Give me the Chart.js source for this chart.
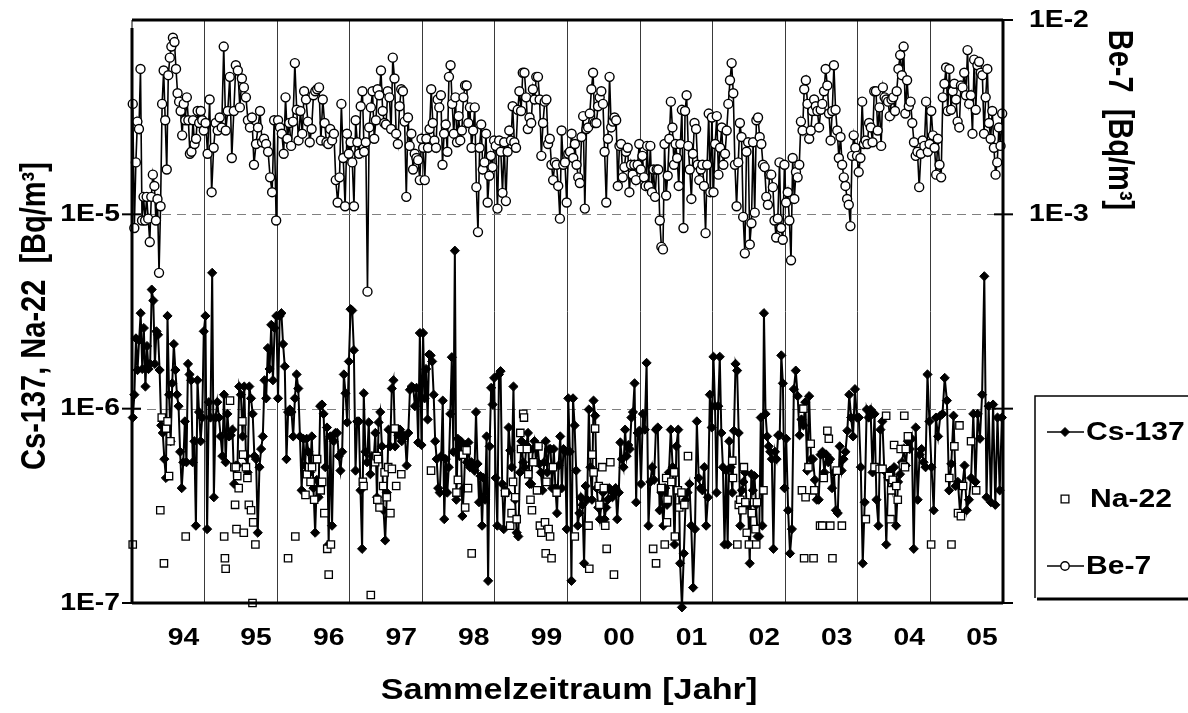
<!DOCTYPE html>
<html><head><meta charset="utf-8">
<script src="https://cdn.jsdelivr.net/npm/chart.js@4"></script>
<style>html,body{margin:0;padding:0;background:#fff;}canvas{display:block;}</style>
</head><body>
<canvas id="c" width="1188" height="713"></canvas>
<script>
// ---- categories / tick labels ----
const years = [1994,1995,1996,1997,1998,1999,2000,2001,2002,2003,2004,2005];
const yearLabels = ['94','95','96','97','98','99','00','01','02','03','04','05'];
const leftTickValues = [1e-7,1e-6,1e-5];
const leftTickLabels = ['1E-7','1E-6','1E-5'];
const rightTickValues = [1e-3,1e-2];
const rightTickLabels = ['1E-3','1E-2'];

// ---- Be-7 [Bq/m3], roughly weekly samples per year ----
const be1994 = [3.7e-3,0.85e-3,1.85e-3,3.0e-3,2.75e-3,5.6e-3,0.93e-3,1.23e-3,0.93e-3,1.23e-3,0.95e-3,0.72e-3,1.23e-3,1.6e-3,1.4e-3,0.93e-3,1.2e-3,0.5e-3,1.1e-3,3.7e-3,5.5e-3,3.05e-3,1.7e-3,5.2e-3,6.4e-3,7.3e-3,8.1e-3,7.7e-3,5.6e-3,4.2e-3,3.8e-3,3.4e-3,2.55e-3,3.7e-3,3.05e-3,4.0e-3,3.05e-3,2.05e-3,2.1e-3,3.05e-3,2.3e-3,2.45e-3,3.4e-3,2.95e-3,3.4e-3,3.05e-3,2.7e-3];
const be1995 = [2.95e-3,2.05e-3,3.9e-3,1.3e-3,2.2e-3,2.95e-3,2.7e-3,3.15e-3,2.8e-3,7.3e-3,2.7e-3,3.4e-3,5.1e-3,1.95e-3,3.4e-3,5.85e-3,5.5e-3,3.55e-3,5.0e-3,4.5e-3,4.0e-3,3.05e-3,2.8e-3,3.15e-3,1.8e-3,2.3e-3,2.8e-3,3.4e-3,2.35e-3,2.45e-3,2.3e-3,2.1e-3,1.55e-3,1.3e-3,3.05e-3,0.93e-3];
const be1996 = [3.05e-3,2.8e-3,2.6e-3,2.05e-3,4.0e-3,2.45e-3,2.95e-3,2.25e-3,3.0e-3,6.0e-3,3.45e-3,2.4e-3,3.4e-3,2.6e-3,4.3e-3,3.9e-3,3.0e-3,2.35e-3,2.75e-3,4.1e-3,4.3e-3,4.4e-3,4.5e-3,2.4e-3,3.9e-3,2.95e-3,2.35e-3,2.3e-3,2.75e-3,2.4e-3,2.6e-3,1.5e-3,1.15e-3,1.55e-3,3.7e-3,1.95e-3,1.1e-3,2.6e-3,2.05e-3];
const be1997 = [2.35e-3,1.85e-3,1.1e-3,3.05e-3,2.35e-3,2.05e-3,3.6e-3,4.3e-3,2.1e-3,2.35e-3,0.4e-3,2.8e-3,3.55e-3,4.3e-3,2.45e-3,3.05e-3,4.4e-3,4.1e-3,5.5e-3,3.4e-3,2.95e-3,2.9e-3,4.3e-3,4.0e-3,2.75e-3,6.4e-3,5.0e-3,2.6e-3,2.3e-3,3.6e-3,4.4e-3,4.3e-3,3.0e-3,1.23e-3,3.15e-3,2.25e-3,2.6e-3,1.7e-3,2.05e-3,1.95e-3,1.9e-3,1.5e-3,2.45e-3];
const be1998 = [2.2e-3,1.5e-3,2.45e-3,2.2e-3,2.75e-3,4.4e-3,2.95e-3,2.4e-3,2.2e-3,3.9e-3,3.55e-3,4.1e-3,1.8e-3,2.6e-3,2.9e-3,2.1e-3,5.1e-3,5.85e-3,3.7e-3,2.6e-3,4.0e-3,2.35e-3,3.2e-3,2.4e-3,2.7e-3,4.0e-3,4.6e-3,4.6e-3,2.95e-3,3.55e-3,2.2e-3,2.7e-3,3.55e-3,1.38e-3,0.81e-3,2.2e-3,2.9e-3,1.7e-3,1.85e-3,2.6e-3,1.15e-3,1.58e-3,2.0e-3,1.75e-3,2.4e-3];
const be1999 = [2.25e-3,1.07e-3,2.4e-3,2.1e-3,1.29e-3,2.35e-3,1.17e-3,2.1e-3,2.7e-3,2.4e-3,3.6e-3,2.35e-3,2.2e-3,3.45e-3,4.3e-3,3.4e-3,5.35e-3,5.35e-3,4.0e-3,2.75e-3,3.15e-3,2.95e-3,4.4e-3,3.9e-3,5.1e-3,5.1e-3,3.9e-3,2.0e-3,2.95e-3,3.8e-3,3.9e-3,2.3e-3,2.45e-3,1.8e-3,1.5e-3,1.85e-3,1.8e-3,1.4e-3,0.95e-3,2.7e-3,1.8e-3,1.85e-3,1.15e-3];
const be2000 = [2.05e-3,2.1e-3,2.6e-3,1.95e-3,2.3e-3,1.8e-3,1.55e-3,1.45e-3,2.5e-3,3.2e-3,1.07e-3,2.75e-3,2.8e-3,3.3e-3,4.4e-3,5.35e-3,2.95e-3,2.95e-3,3.6e-3,4.0e-3,4.3e-3,3.7e-3,2.1e-3,1.15e-3,2.45e-3,5.1e-3,2.8e-3,3.0e-3,3.15e-3,3.05e-3,1.4e-3,2.25e-3,2.3e-3,1.55e-3,1.75e-3,2.1e-3,2.2e-3,1.3e-3,1.8e-3,1.6e-3,1.8e-3,1.5e-3,1.8e-3,2.3e-3];
const be2001 = [1.7e-3,2.0e-3,1.55e-3,1.4e-3,2.25e-3,1.4e-3,2.25e-3,1.3e-3,1.7e-3,1.23e-3,1.7e-3,1.7e-3,0.93e-3,0.68e-3,0.66e-3,2.3e-3,1.25e-3,1.58e-3,2.45e-3,3.8e-3,2.8e-3,1.8e-3,2.3e-3,1.95e-3,1.4e-3,2.3e-3,3.45e-3,0.85e-3,3.4e-3,4.1e-3,2.25e-3,1.7e-3,1.2e-3,2.05e-3,2.95e-3,2.75e-3,1.8e-3,1.5e-3,1.7e-3,1.8e-3,1.4e-3,0.8e-3,1.8e-3,3.3e-3,1.3e-3,3.15e-3];
const be2002 = [1.3e-3,2.3e-3,3.2e-3,1.6e-3,2.2e-3,2.8e-3,1.8e-3,2.05e-3,2.7e-3,3.7e-3,4.9e-3,6.0e-3,4.2e-3,1.8e-3,1.1e-3,1.85e-3,2.95e-3,2.5e-3,0.97e-3,0.63e-3,2.1e-3,2.35e-3,0.7e-3,0.9e-3,2.35e-3,1.02e-3,3.05e-3,3.15e-3,2.5e-3,2.3e-3,1.8e-3,1.75e-3,1.23e-3,1.12e-3,1.6e-3,1.6e-3,1.38e-3,0.93e-3,0.76e-3,0.95e-3,1.85e-3,0.85e-3,0.74e-3,1.8e-3];
const be2003 = [1.15e-3,1.3e-3,0.93e-3,0.58e-3,1.95e-3,1.2e-3,1.65e-3,1.55e-3,1.8e-3,3.0e-3,2.7e-3,4.4e-3,4.9e-3,3.7e-3,2.45e-3,2.7e-3,3.4e-3,3.9e-3,3.6e-3,3.4e-3,2.8e-3,3.45e-3,3.7e-3,4.3e-3,5.6e-3,4.6e-3,3.3e-3,2.4e-3,3.4e-3,5.85e-3,3.45e-3,2.7e-3,1.95e-3,2.5e-3,1.8e-3,1.55e-3,1.4e-3,1.2e-3,1.12e-3,0.87e-3,2.0e-3,2.55e-3,2.2e-3,2.0e-3];
const be2004 = [1.65e-3,1.95e-3,3.8e-3,2.3e-3,2.4e-3,2.3e-3,2.95e-3,2.8e-3,2.35e-3,4.3e-3,4.3e-3,2.7e-3,3.55e-3,2.25e-3,4.5e-3,4.0e-3,3.9e-3,3.8e-3,3.2e-3,3.9e-3,4.0e-3,3.4e-3,4.3e-3,5.6e-3,6.6e-3,5.2e-3,7.3e-3,3.3e-3,4.9e-3,3.6e-3,3.8e-3,2.95e-3,2.35e-3,2.0e-3,2.1e-3,1.38e-3,2.05e-3,2.4e-3,2.25e-3,3.8e-3,2.1e-3,2.3e-3];
const be2005 = [3.4e-3,2.55e-3,2.2e-3,1.6e-3,2.45e-3,1.8e-3,1.55e-3,4.0e-3,4.7e-3,5.7e-3,3.4e-3,5.6e-3,3.45e-3,4.3e-3,4.7e-3,3.9e-3,3.0e-3,2.8e-3,4.6e-3,4.5e-3,5.35e-3,4.1e-3,7.0e-3,3.7e-3,4.1e-3,2.6e-3,6.25e-3,3.45e-3,5.85e-3,6.1e-3,5.35e-3,5.2e-3,2.6e-3,4.0e-3,5.6e-3,2.95e-3,2.45e-3,3.4e-3,2.2e-3,1.6e-3,1.85e-3,2.8e-3,2.25e-3,3.3e-3];

// ---- Cs-137 [Bq/m3] ----
const cs1994 = [0.9e-6,1.18e-6,2.3e-6,1.58e-6,2.25e-6,3.1e-6,1.6e-6,2.6e-6,1.3e-6,2.1e-6,1.6e-6,1.7e-6,4.1e-6,3.6e-6,1.7e-6,2.5e-6,2.4e-6,1.58e-6,0.82e-6,0.75e-6,0.55e-6,0.44e-6,3.0e-6,1.18e-6,0.68e-6,1.35e-6,2.15e-6,1.58e-6,1.18e-6,1.03e-6,0.6e-6,0.39e-6,0.53e-6,0.86e-6,0.53e-6,1.7e-6,1.5e-6,1.4e-6,0.53e-6,0.68e-6,0.25e-6,1.4e-6,0.96e-6,0.68e-6,0.9e-6,2.5e-6];
const cs1995 = [3.0e-6,0.24e-6,1.08e-6,0.9e-6,5.0e-6,0.35e-6,0.9e-6,1.08e-6,0.9e-6,0.72e-6,0.57e-6,1.18e-6,0.53e-6,0.94e-6,0.72e-6,0.73e-6,0.78e-6,0.41e-6,0.51e-6,0.51e-6,1.3e-6,1.18e-6,0.72e-6,1.3e-6,0.57e-6,0.47e-6,1.3e-6,1.13e-6,0.94e-6,0.57e-6,0.55e-6,0.23e-6,0.5e-6,0.62e-6,0.72e-6,1.4e-6,1.13e-6,2.05e-6,1.6e-6,2.7e-6,1.4e-6,2.6e-6,3.0e-6];
const cs1996 = [1.13e-6,3.0e-6,3.1e-6,2.15e-6,1.65e-6,0.55e-6,0.96e-6,0.99e-6,0.96e-6,0.72e-6,1.13e-6,1.5e-6,1.27e-6,0.72e-6,0.38e-6,0.7e-6,0.51e-6,0.7e-6,0.6e-6,0.47e-6,0.72e-6,0.39e-6,0.23e-6,0.43e-6,0.35e-6,1.03e-6,1.05e-6,0.94e-6,0.5e-6,0.8e-6,0.2e-6,0.72e-6,0.25e-6,0.68e-6,0.75e-6,0.75e-6,0.57e-6,0.48e-6,0.6e-6,1.5e-6,1.2e-6,0.85e-6,1.75e-6];
const cs1997 = [3.25e-6,3.2e-6,2.0e-6,0.48e-6,0.86e-6,0.86e-6,0.38e-6,0.19e-6,1.2e-6,0.6e-6,0.53e-6,0.85e-6,0.46e-6,0.57e-6,0.55e-6,0.75e-6,0.35e-6,0.85e-6,0.96e-6,0.64e-6,0.3e-6,0.21e-6,0.37e-6,0.78e-6,0.64e-6,1.27e-6,1.4e-6,0.64e-6,0.77e-6,0.73e-6,0.78e-6,0.68e-6,0.73e-6,0.72e-6,0.51e-6,0.75e-6,1.25e-6,1.3e-6,1.28e-6,1.03e-6,1.28e-6,0.67e-6,2.45e-6,0.65e-6];
const cs1998 = [2.45e-6,1.13e-6,1.6e-6,0.88e-6,1.9e-6,1.88e-6,1.75e-6,1.18e-6,0.68e-6,0.55e-6,0.39e-6,0.37e-6,0.57e-6,1.1e-6,0.27e-6,0.55e-6,0.37e-6,0.5e-6,0.94e-6,1.84e-6,0.6e-6,6.5e-6,0.34e-6,0.7e-6,0.57e-6,0.68e-6,0.28e-6,0.39e-6,0.65e-6,0.53e-6,0.67e-6,0.5e-6,0.53e-6,0.51e-6,0.48e-6,0.96e-6,0.52e-6,0.33e-6,0.45e-6,0.25e-6,0.44e-6,0.34e-6,0.72e-6,0.13e-6,0.64e-6,1.28e-6,1.05e-6,1.44e-6];
const cs1999 = [0.44e-6,0.25e-6,1.5e-6,1.56e-6,0.41e-6,0.24e-6,0.38e-6,0.37e-6,0.8e-6,0.61e-6,0.5e-6,1.3e-6,0.34e-6,0.23e-6,0.22e-6,0.47e-6,0.68e-6,0.53e-6,0.5e-6,0.65e-6,0.75e-6,0.41e-6,0.41e-6,0.62e-6,0.68e-6,0.53e-6,0.64e-6,0.52e-6,0.47e-6,0.38e-6,0.53e-6,0.68e-6,0.47e-6,0.62e-6,0.62e-6,0.39e-6,0.62e-6,0.39e-6,0.29e-6,0.51e-6,0.72e-6,0.39e-6,0.62e-6,0.6e-6,0.24e-6];
const cs2000 = [1.13e-6,0.6e-6,0.13e-6,1.13e-6,0.82e-6,0.48e-6,0.25e-6,0.29e-6,0.35e-6,0.32e-6,0.16e-6,0.4e-6,0.34e-6,0.99e-6,0.5e-6,0.34e-6,1.1e-6,0.92e-6,0.39e-6,0.31e-6,0.27e-6,0.32e-6,0.37e-6,0.27e-6,0.31e-6,0.34e-6,0.39e-6,0.38e-6,0.35e-6,0.37e-6,0.39e-6,0.27e-6,0.37e-6,0.67e-6,0.55e-6,0.5e-6,0.78e-6,0.57e-6,0.65e-6,0.62e-6,0.9e-6,0.96e-6,1.35e-6,0.33e-6,0.75e-6,0.77e-6];
const cs2001 = [0.41e-6,0.94e-6,0.78e-6,1.72e-6,0.25e-6,0.42e-6,0.5e-6,0.43e-6,0.78e-6,0.8e-6,0.3e-6,0.37e-6,0.25e-6,0.39e-6,0.32e-6,0.47e-6,0.78e-6,0.5e-6,0.2e-6,0.64e-6,0.78e-6,0.16e-6,0.095e-6,0.18e-6,0.34e-6,0.37e-6,0.41e-6,0.25e-6,0.12e-6,0.24e-6,0.86e-6,0.44e-6,0.39e-6,0.38e-6,0.5e-6,0.25e-6,0.35e-6,1.18e-6,0.8e-6];
const cs2002 = [1.85e-6,1.03e-6,0.37e-6,1.03e-6,1.85e-6,0.75e-6,0.5e-6,0.2e-6,0.48e-6,0.2e-6,0.68e-6,0.5e-6,0.37e-6,0.77e-6,1.7e-6,1.57e-6,0.75e-6,0.25e-6,0.38e-6,0.42e-6,0.47e-6,0.32e-6,0.32e-6,0.16e-6,0.46e-6,0.38e-6,0.45e-6,0.32e-6,0.22e-6,0.22e-6,0.9e-6,0.25e-6,3.1e-6,0.94e-6,0.72e-6,0.64e-6,0.6e-6,0.55e-6,0.19e-6,0.6e-6,0.55e-6,0.73e-6,0.73e-6,1.88e-6,1.35e-6,0.39e-6];
const cs2003 = [0.7e-6,0.3e-6,0.18e-6,0.24e-6,1.26e-6,1.57e-6,1.16e-6,0.73e-6,0.88e-6,0.82e-6,1.08e-6,0.48e-6,1.16e-6,0.55e-6,0.55e-6,0.43e-6,0.34e-6,0.34e-6,0.58e-6,0.6e-6,0.47e-6,0.58e-6,0.53e-6,0.55e-6,0.39e-6,0.47e-6,0.3e-6,0.29e-6,0.64e-6,0.48e-6,0.55e-6,0.6e-6,0.77e-6,1.18e-6,0.9e-6,0.72e-6,1.26e-6,0.9e-6];
const cs2004 = [0.9e-6,0.5e-6,0.16e-6,0.33e-6,0.99e-6,0.9e-6,0.99e-6,0.47e-6,0.94e-6,0.34e-6,0.25e-6,0.78e-6,0.86e-6,0.48e-6,0.2e-6,0.44e-6,0.48e-6,0.39e-6,0.5e-6,0.25e-6,0.42e-6,0.46e-6,0.53e-6,0.62e-6,0.51e-6,0.68e-6,0.62e-6,0.7e-6,0.19e-6,0.8e-6,0.34e-6,0.58e-6,0.62e-6,0.53e-6,0.5e-6,1.5e-6,0.86e-6];
const cs2005 = [0.5e-6,0.3e-6,0.9e-6,0.72e-6,0.92e-6,0.94e-6,1.44e-6,1.1e-6,0.38e-6,0.52e-6,0.92e-6,0.4e-6,0.42e-6,0.29e-6,0.4e-6,0.51e-6,0.3e-6,0.34e-6,0.44e-6,0.94e-6,0.42e-6,0.94e-6,0.7e-6,1.18e-6,4.8e-6,0.35e-6,1.03e-6,0.33e-6,1.05e-6,0.32e-6,0.9e-6,0.38e-6,0.9e-6];

// ---- Na-22 [Bq/m3], individual sampling dates (decimal year) ----
const naDates = [1994.01,1994.39,1994.41,1994.44,1994.47,1994.49,1994.51,1994.53,1994.74,
 1995.27,1995.28,1995.29,1995.35,1995.41,1995.42,1995.43,1995.44,1995.45,1995.47,1995.52,1995.53,1995.54,1995.57,1995.59,1995.61,1995.64,1995.66,1995.67,1995.7,
 1996.15,1996.25,1996.39,1996.41,1996.44,1996.46,1996.48,1996.51,1996.53,1996.55,1996.6,1996.62,1996.65,1996.69,1996.71,1996.74,
 1997.18,1997.19,1997.29,1997.35,1997.37,1997.38,1997.39,1997.41,1997.46,1997.48,1997.51,1997.53,1997.56,1997.58,1997.62,1997.64,1997.71,
 1998.12,1998.47,1998.49,1998.56,1998.59,1998.61,1998.63,1998.68,
 1999.14,1999.21,1999.23,1999.25,1999.28,1999.3,1999.35,1999.36,1999.39,1999.4,1999.44,1999.46,1999.49,1999.51,1999.53,1999.58,1999.6,1999.62,1999.64,1999.69,1999.7,1999.71,1999.74,1999.76,1999.78,1999.8,1999.85,
 2000.1,2000.29,2000.3,2000.34,2000.36,2000.38,2000.43,2000.44,2000.48,2000.5,2000.52,2000.54,2000.59,2000.64,
 2001.18,2001.22,2001.29,2001.34,2001.36,2001.37,2001.38,2001.43,2001.47,2001.48,2001.52,2001.54,2001.57,2001.61,2001.66,
 2002.27,2002.28,2002.34,2002.36,2002.38,2002.41,2002.43,2002.45,2002.47,2002.5,2002.54,2002.57,2002.59,2002.6,2002.61,2002.7,
 2003.23,2003.25,2003.26,2003.28,2003.32,2003.35,2003.39,2003.4,2003.48,2003.51,2003.53,2003.58,2003.6,2003.62,2003.65,2003.71,2003.78,
 2004.11,2004.23,2004.3,2004.34,2004.39,2004.43,2004.45,2004.46,2004.48,2004.5,2004.53,2004.55,2004.59,2004.62,2004.64,2004.65,2004.66,2004.69,
 2005.01,2005.26,2005.29,2005.33,2005.38,2005.4,2005.42,2005.45,2005.56,2005.63];
const naValues = [0.2e-6,0.3e-6,0.9e-6,0.16e-6,0.79e-6,0.86e-6,0.45e-6,0.68e-6,0.22e-6,
 0.22e-6,0.17e-6,0.15e-6,1.1e-6,0.5e-6,0.32e-6,0.5e-6,0.24e-6,0.45e-6,0.39e-6,0.86e-6,0.58e-6,0.23e-6,0.5e-6,0.44e-6,0.32e-6,0.3e-6,0.1e-6,0.26e-6,0.2e-6,
 0.17e-6,0.22e-6,0.36e-6,0.46e-6,0.5e-6,0.42e-6,0.5e-6,0.34e-6,0.55e-6,0.55e-6,0.38e-6,0.42e-6,0.29e-6,0.19e-6,0.14e-6,0.2e-6,
 0.42e-6,0.4e-6,0.11e-6,0.53e-6,0.57e-6,0.34e-6,0.55e-6,0.31e-6,0.4e-6,0.47e-6,0.35e-6,0.5e-6,0.29e-6,0.49e-6,0.79e-6,0.4e-6,0.46e-6,
 0.48e-6,0.37e-6,0.43e-6,0.58e-6,0.31e-6,0.61e-6,0.39e-6,0.18e-6,
 0.37e-6,0.25e-6,0.29e-6,0.42e-6,0.35e-6,0.27e-6,0.75e-6,0.62e-6,0.94e-6,0.9e-6,0.62e-6,0.46e-6,0.34e-6,0.3e-6,0.53e-6,0.38e-6,0.64e-6,0.25e-6,0.23e-6,0.26e-6,0.18e-6,0.42e-6,0.24e-6,0.22e-6,0.17e-6,0.5e-6,0.37e-6,
 0.22e-6,0.25e-6,0.15e-6,0.58e-6,0.47e-6,0.79e-6,0.4e-6,0.32e-6,0.5e-6,0.39e-6,0.25e-6,0.19e-6,0.53e-6,0.14e-6,
 0.19e-6,0.16e-6,0.39e-6,0.2e-6,0.44e-6,0.26e-6,0.34e-6,0.42e-6,0.47e-6,0.22e-6,0.38e-6,0.31e-6,0.37e-6,0.32e-6,0.57e-6,
 0.54e-6,0.44e-6,0.2e-6,0.32e-6,0.34e-6,0.3e-6,0.5e-6,0.33e-6,0.23e-6,0.2e-6,0.29e-6,0.33e-6,0.24e-6,0.2e-6,0.33e-6,0.38e-6,
 0.38e-6,1.0e-6,0.17e-6,0.35e-6,0.5e-6,0.66e-6,0.17e-6,0.38e-6,0.25e-6,0.25e-6,0.44e-6,0.77e-6,0.7e-6,0.25e-6,0.17e-6,0.48e-6,0.25e-6,
 0.27e-6,0.5e-6,0.49e-6,0.49e-6,0.92e-6,0.45e-6,0.27e-6,0.38e-6,0.43e-6,0.65e-6,0.4e-6,0.34e-6,0.62e-6,0.51e-6,0.92e-6,0.5e-6,0.62e-6,0.72e-6,
 0.2e-6,0.44e-6,0.2e-6,0.64e-6,0.29e-6,0.82e-6,0.28e-6,0.4e-6,0.68e-6,0.38e-6];

const beYears = [be1994,be1995,be1996,be1997,be1998,be1999,be2000,be2001,be2002,be2003,be2004,be2005];
const csYears = [cs1994,cs1995,cs1996,cs1997,cs1998,cs1999,cs2000,cs2001,cs2002,cs2003,cs2004,cs2005];

// samples are spread evenly through their year (weekly sampling)
function weekly(list){
  const out = [];
  list.forEach((arr, k) => arr.forEach((v, i) => out.push({x: years[k] + (i + 0.5) / arr.length, y: v})));
  return out;
}
const beData = weekly(beYears);
const csData = weekly(csYears);
const naData = naDates.map((d, i) => ({x: d, y: naValues[i]}));

const FONT = "'Liberation Sans', Arial, sans-serif";
const SX = 1.18; // the original artwork is slightly stretched horizontally

function txt(ctx, s, x, y, size, align, rot){
  ctx.save();
  ctx.translate(x, y);
  ctx.scale(SX, 1);
  if (rot) ctx.rotate(rot);
  ctx.font = 'bold ' + size + 'px ' + FONT;
  ctx.textAlign = align;
  ctx.textBaseline = 'middle';
  ctx.fillStyle = '#000';
  ctx.fillText(s, 0, 0);
  ctx.restore();
}

const decor = {
  id: 'decor',
  beforeDatasetsDraw(chart){
    const {ctx, chartArea: a, scales} = chart;
    ctx.save();
    ctx.strokeStyle = '#808080';
    ctx.lineWidth = 1;
    ctx.setLineDash([9, 6]);
    [1e-6, 1e-5].forEach(v => {
      const y = Math.round(scales.y.getPixelForValue(v)) + 0.5;
      ctx.beginPath(); ctx.moveTo(a.left, y); ctx.lineTo(a.right, y); ctx.stroke();
    });
    ctx.restore();
  },
  afterDatasetsDraw(chart){
    const {ctx, chartArea: a, scales} = chart;
    ctx.save();
    // frame
    ctx.strokeStyle = '#000';
    ctx.lineWidth = 3;
    ctx.beginPath();
    ctx.moveTo(a.left, a.top); ctx.lineTo(a.right, a.top);
    ctx.moveTo(a.left, a.bottom); ctx.lineTo(a.right, a.bottom);
    ctx.moveTo(a.left, a.top + 8); ctx.lineTo(a.left, a.bottom);
    ctx.moveTo(a.right, a.top); ctx.lineTo(a.right, a.bottom);
    ctx.stroke();
    ctx.lineWidth = 1;
    ctx.beginPath(); ctx.moveTo(a.left, a.top); ctx.lineTo(a.left, a.top + 8); ctx.stroke();
    // crossing tick marks
    ctx.lineWidth = 2;
    [1e-7, 1e-6, 1e-5].forEach(v => {
      const y = scales.y.getPixelForValue(v);
      ctx.beginPath(); ctx.moveTo(a.left - 10, y); ctx.lineTo(a.left + 9, y); ctx.stroke();
    });
    [1e-5, 1e-4, 1e-3, 1e-2].forEach(v => {
      const y = scales.y2.getPixelForValue(v);
      ctx.beginPath(); ctx.moveTo(a.right - 9, y); ctx.lineTo(a.right + 10, y); ctx.stroke();
    });
    ctx.restore();
    // tick labels
    leftTickValues.forEach((v, i) => txt(ctx, leftTickLabels[i], a.left - 12, scales.y.getPixelForValue(v), 24, 'right'));
    rightTickValues.forEach((v, i) => txt(ctx, rightTickLabels[i], a.right + 26, scales.y2.getPixelForValue(v), 24, 'left'));
    years.forEach((yr, i) => txt(ctx, yearLabels[i], scales.x.getPixelForValue(yr + 0.71), a.bottom + 35, 24, 'center'));
    // axis titles
    txt(ctx, 'Sammelzeitraum [Jahr]', 569, 691, 29, 'center');
    txt(ctx, 'Cs-137, Na-22  [Bq/m\u00B3]', 36, 316, 29, 'center', -Math.PI / 2);
    txt(ctx, 'Be-7  [Bq/m\u00B3]', 1118, 120, 29, 'center', Math.PI / 2);
    // legend
    ctx.save();
    const L = 1035, T = 396, B = 598;
    ctx.strokeStyle = '#000';
    ctx.lineWidth = 1.5;
    ctx.beginPath(); ctx.moveTo(1200, T); ctx.lineTo(L, T); ctx.lineTo(L, B); ctx.stroke();
    ctx.lineWidth = 3;
    ctx.beginPath(); ctx.moveTo(L + 2, B + 1); ctx.lineTo(1200, B + 1); ctx.stroke();
    const items = [
      {label: 'Cs-137', y: 432, line: true, ds: 1, r: 4.5},
      {label: 'Na-22', y: 499, line: false, ds: 0, r: 5.5},
      {label: 'Be-7', y: 566, line: true, ds: 2, r: 4.2}
    ];
    items.forEach(it => {
      const ds = chart.data.datasets[it.ds];
      ctx.strokeStyle = '#000';
      ctx.lineWidth = 1.5;
      if (it.line) { ctx.beginPath(); ctx.moveTo(1047, it.y); ctx.lineTo(1084, it.y); ctx.stroke(); }
      ctx.fillStyle = ds.pointBackgroundColor;
      ctx.strokeStyle = ds.pointBorderColor;
      ctx.lineWidth = ds.pointBorderWidth;
      Chart.helpers.drawPoint(ctx, {pointStyle: ds.pointStyle, radius: it.r, borderWidth: ds.pointBorderWidth, rotation: 0}, 1065, it.y);
    });
    ctx.restore();
    items.forEach(it => txt(ctx, it.label, it.line ? 1086 : 1090, it.y + 1, 25.5, 'left'));
  }
};

new Chart(document.getElementById('c'), {
  type: 'line',
  data: {
    datasets: [
      {label: 'Na-22', data: naData, yAxisID: 'y', showLine: false, pointStyle: 'rect', pointRadius: 5.2, pointBorderWidth: 1.3,
       pointBackgroundColor: '#fff', pointBorderColor: '#000', borderColor: '#000', backgroundColor: '#fff', clip: false},
      {label: 'Cs-137', data: csData, yAxisID: 'y', borderColor: '#000', borderWidth: 2, pointStyle: 'rectRot', pointRadius: 4.6,
       pointBorderWidth: 1, pointBackgroundColor: '#000', pointBorderColor: '#000', backgroundColor: '#000', tension: 0, clip: false},
      {label: 'Be-7', data: beData, yAxisID: 'y2', borderColor: '#000', borderWidth: 1.6, pointStyle: 'circle', pointRadius: 4.5,
       pointBorderWidth: 1.4, pointBackgroundColor: '#fff', pointBorderColor: '#000', backgroundColor: '#fff', tension: 0, clip: false}
    ]
  },
  options: {
    responsive: false,
    devicePixelRatio: 1,
    animation: false,
    layout: {padding: {top: 20, left: 0, right: 0, bottom: 0}},
    plugins: {legend: {display: false}, tooltip: {enabled: false}},
    scales: {
      x: {
        type: 'linear', min: 1994, max: 2006, position: 'bottom',
        afterBuildTicks: s => { s.ticks = years.concat([2006]).map(v => ({value: v})); },
        afterFit: s => { s.height = 110; },
        ticks: {display: false},
        border: {display: false},
        grid: {drawTicks: false, lineWidth: 1,
               color: c => (c.tick && c.tick.value > 1994 && c.tick.value < 2006) ? '#3a3a3a' : 'rgba(0,0,0,0)'}
      },
      y: {
        type: 'logarithmic', min: 1e-7, max: 1e-4, position: 'left',
        afterFit: s => { s.width = 132; },
        ticks: {display: false},
        border: {display: false},
        grid: {display: false}
      },
      y2: {
        type: 'logarithmic', min: 1e-5, max: 1e-2, position: 'right',
        afterFit: s => { s.width = 185; },
        ticks: {display: false},
        border: {display: false},
        grid: {display: false}
      }
    }
  },
  plugins: [decor]
});
</script>
</body></html>
